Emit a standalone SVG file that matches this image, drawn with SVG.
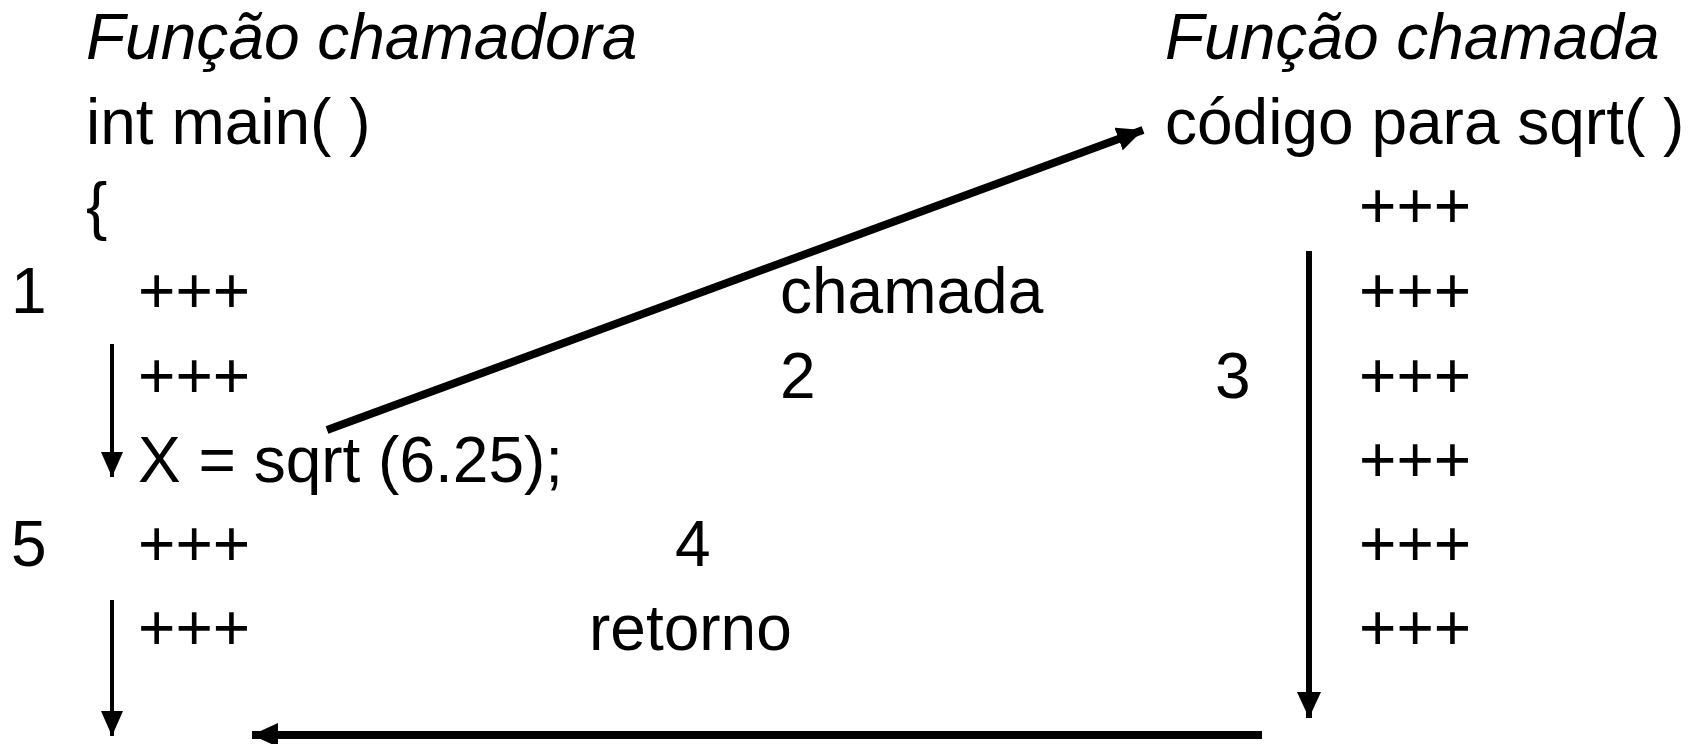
<svg xmlns="http://www.w3.org/2000/svg" width="1694" height="744" viewBox="0 0 1694 744">
<style>
text{font-family:"Liberation Sans",Arial,sans-serif;font-size:64px;fill:#000}
.it{font-style:italic}
.thin{stroke:#000;stroke-width:4;fill:none}
.mid{stroke:#000;stroke-width:6;fill:none}
.thick{stroke:#000;stroke-width:8;fill:none}
</style>
<defs>
<marker id="hl" markerUnits="userSpaceOnUse" markerWidth="26" markerHeight="24" refX="26" refY="12" orient="auto"><path d="M0,0 L26,12 L0,24 Z" fill="#000"/></marker>
<marker id="hm" markerUnits="userSpaceOnUse" markerWidth="25" markerHeight="22" refX="25" refY="11" orient="auto"><path d="M0,0 L25,11 L0,22 Z" fill="#000"/></marker>
</defs>
<rect width="1694" height="744" fill="#fff"/>
<g id="caller">
<text class="it" x="86" y="59">Função chamadora</text>
<text x="86" y="144">int main( )</text>
<text x="86" y="228">{</text>
<text x="11" y="313">1</text>
<text x="138" y="313">+++</text>
<text x="138" y="398">+++</text>
<text x="138" y="482">X = sqrt (6.25);</text>
<text x="11" y="566">5</text>
<text x="138" y="566">+++</text>
<text x="138" y="650">+++</text>
</g>
<g id="callee">
<text class="it" x="1165" y="59">Função chamada</text>
<text x="1165" y="144">código para sqrt( )</text>
<text x="1359" y="228">+++</text>
<text x="1359" y="313">+++</text>
<text x="1359" y="398">+++</text>
<text x="1359" y="482">+++</text>
<text x="1359" y="566">+++</text>
<text x="1359" y="650">+++</text>
</g>
<g id="labels">
<text x="780" y="313">chamada</text>
<text x="780" y="398">2</text>
<text x="1215" y="398">3</text>
<text x="675" y="566">4</text>
<text x="589" y="650">retorno</text>
</g>
<g id="connectors">
<line class="thin" x1="112" y1="344" x2="112" y2="477" marker-end="url(#hm)"/>
<line class="thin" x1="112" y1="600" x2="112" y2="736" marker-end="url(#hm)"/>
<line class="thick" x1="327" y1="430" x2="1143" y2="130" marker-end="url(#hl)"/>
<line class="mid" x1="1309" y1="251" x2="1309" y2="718" marker-end="url(#hl)"/>
<line class="thick" x1="1262" y1="735" x2="252" y2="735" marker-end="url(#hl)"/>
</g>
</svg>
